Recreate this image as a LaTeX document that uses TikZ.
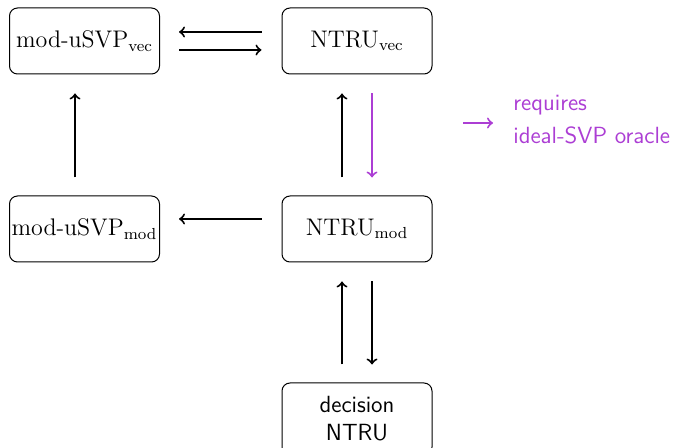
\documentclass[tikz,border=0pt]{standalone}
\definecolor{oraclepurple}{RGB}{172,62,212}
\begin{document}
\begin{tikzpicture}[x=0.5pt,y=-0.5pt,
  probbox/.style={draw, rounded corners=4pt, line width=0.5pt, minimum width=75pt, minimum height=33pt, inner sep=0pt, font=\fontsize{11.5}{13}\selectfont},
  reduction/.style={->, line width=1pt},
  oracle/.style={reduction, draw=oraclepurple},
  sanstext/.style={font=\sffamily\fontsize{11.7}{14}\selectfont}]
\useasboundingbox (0,0) rectangle (675,448);

% problems
\node[probbox] (sv) at (84.5,41) {$\mathrm{mod\mbox{-}uSVP}_{\mathrm{vec}}$};
\node[probbox] (nv) at (357,41) {$\mathrm{NTRU}_{\mathrm{vec}}$};
\node[probbox] (sm) at (84.5,229) {$\mathrm{mod\mbox{-}uSVP}_{\mathrm{mod}}$};
\node[probbox] (nm) at (357,229) {$\mathrm{NTRU}_{\mathrm{mod}}$};
\node[probbox, minimum height=36pt, sanstext, align=center] (dn) at (357,419) {decision\\NTRU};

% reductions
\draw[reduction] ([xshift=-10pt,yshift=4.5pt]nv.west) -- ([xshift=9.5pt,yshift=4.5pt]sv.east);
\draw[reduction] ([xshift=9.5pt,yshift=-4.5pt]sv.east) -- ([xshift=-10pt,yshift=-4.5pt]nv.west);
\draw[reduction] ([yshift=9pt]sm.north -| 75,0) -- ([yshift=-9.5pt]sv.south -| 75,0);
\draw[reduction] ([xshift=-7.5pt,yshift=9pt]nm.north) -- ([xshift=-7.5pt,yshift=-9.5pt]nv.south);
\draw[oracle] ([xshift=7.5pt,yshift=-9.5pt]nv.south) -- ([xshift=7.5pt,yshift=9pt]nm.north);
\draw[reduction] ([xshift=-10pt,yshift=5pt]nm.west) -- ([xshift=9.5pt,yshift=5pt]sm.east);
\draw[reduction] ([xshift=-7.5pt,yshift=9pt]dn.north) -- ([xshift=-7.5pt,yshift=-9.5pt]nm.south);
\draw[reduction] ([xshift=7.5pt,yshift=-9.5pt]nm.south) -- ([xshift=7.5pt,yshift=9pt]dn.north);

% legend
\node[anchor=west, sanstext, font=\sffamily\fontsize{11.7}{16.5}\selectfont, text=oraclepurple, align=left, inner sep=0pt] (leg) at (513,120) {requires\\ideal-SVP oracle};
\coordinate (l1) at (463,123);
\draw[oracle] (l1) -- ([xshift=-10pt]leg.west |- l1);
\end{tikzpicture}
\end{document}
